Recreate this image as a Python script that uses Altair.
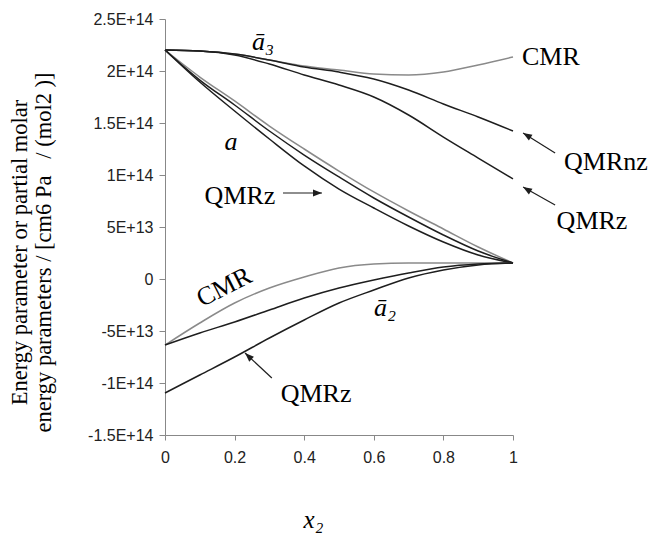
import altair as alt
import pandas as pd

# ---------------- data ----------------
x2 = [0.0, 0.1, 0.2, 0.3, 0.4, 0.5, 0.6, 0.7, 0.8, 0.9, 1.0]

# partial molar a3 (component 3)
a3_cmr   = [22.02e13, 21.92e13, 21.63e13, 21.06e13, 20.48e13, 20.10e13, 19.71e13, 19.62e13, 19.90e13, 20.58e13, 21.35e13]
a3_qmrnz = [22.02e13, 21.92e13, 21.63e13, 21.06e13, 20.38e13, 19.90e13, 19.23e13, 18.17e13, 16.83e13, 15.58e13, 14.23e13]
a3_qmrz  = [22.02e13, 21.92e13, 21.54e13, 20.67e13, 19.62e13, 18.65e13, 17.50e13, 15.77e13, 13.65e13, 11.63e13, 9.62e13]

# mixture energy parameter a
a_cmr    = [22.02e13, 19.42e13, 17.12e13, 14.71e13, 12.50e13, 10.38e13, 8.37e13, 6.54e13, 4.81e13, 3.08e13, 1.54e13]
a_qmrnz  = [22.02e13, 19.13e13, 16.73e13, 14.23e13, 11.92e13, 9.81e13, 7.79e13, 5.96e13, 4.23e13, 2.69e13, 1.54e13]
a_qmrz   = [22.02e13, 18.94e13, 16.15e13, 13.46e13, 10.87e13, 8.65e13, 6.83e13, 5.10e13, 3.56e13, 2.31e13, 1.54e13]

# partial molar a2 (component 2)
a2_cmr   = [-6.35e13, -4.23e13, -2.31e13, -0.87e13, 0.19e13, 1.06e13, 1.44e13, 1.54e13, 1.54e13, 1.54e13, 1.54e13]
a2_qmrnz = [-6.35e13, -5.19e13, -4.13e13, -2.98e13, -1.83e13, -0.87e13, -0.10e13, 0.58e13, 1.15e13, 1.44e13, 1.54e13]
a2_qmrz  = [-10.96e13, -9.23e13, -7.50e13, -5.67e13, -3.94e13, -2.31e13, -1.06e13, 0.10e13, 0.87e13, 1.35e13, 1.54e13]

series = {
    ("a3", "CMR"): a3_cmr, ("a3", "QMRnz"): a3_qmrnz, ("a3", "QMRz"): a3_qmrz,
    ("a", "CMR"): a_cmr, ("a", "QMRnz"): a_qmrnz, ("a", "QMRz"): a_qmrz,
    ("a2", "CMR"): a2_cmr, ("a2", "QMRnz"): a2_qmrnz, ("a2", "QMRz"): a2_qmrz,
}

x_ticks = [0, 0.2, 0.4, 0.6, 0.8, 1]
x_tick_labels = ["0", "0.2", "0.4", "0.6", "0.8", "1"]
y_ticks = [2.5e14, 2e14, 1.5e14, 1e14, 5e13, 0, -5e13, -1e14, -1.5e14]
y_tick_labels = ["2.5E+14", "2E+14", "1.5E+14", "1E+14", "5E+13", "0", "-5E+13", "-1E+14", "-1.5E+14"]

# annotation labels (data coordinates)
lab_text  = ["CMR", "QMRnz", "QMRz", "QMRz", "QMRz"]
lab_x     = [1.109, 1.267, 1.227, 0.2155, 0.434]
lab_y     = [2.058e14, 1.048e14, 4.81e13, 7.21e13, -1.183e14]

ital_text = ["a", "\u0101\u2083", "\u0101\u2082"]
ital_x    = [0.19, 0.282, 0.632]
ital_y    = [1.24e14, 2.202e14, -3.56e13]

rot_text  = ["CMR"]
rot_x     = [0.17]
rot_y     = [-0.77e13]
rot_angle = [333]

arr_x1 = [0.339, 1.121, 1.121, 0.307]
arr_y1 = [8.27e13, 1.211e14, 7.12e13, -9.52e13]
arr_x2 = [0.451, 1.029, 1.029, 0.230]
arr_y2 = [8.27e13, 1.404e14, 8.85e13, -7.12e13]
arr_angle = [90, 302, 302, 313]

# ---------------- tables ----------------
rows = []
for (grp, model), vals in series.items():
    for xv, yv in zip(x2, vals):
        rows.append({"series": f"{grp}-{model}", "model": model, "x": xv, "y": yv})
df = pd.DataFrame(rows)

df_lab = pd.DataFrame({"t": lab_text, "x": lab_x, "y": lab_y})
df_ital = pd.DataFrame({"t": ital_text, "x": ital_x, "y": ital_y})
df_rot = pd.DataFrame({"t": rot_text, "x": rot_x, "y": rot_y, "ang": rot_angle})
df_arr = pd.DataFrame({"x": arr_x1, "y": arr_y1, "x2": arr_x2, "y2": arr_y2, "ang": arr_angle})

x_expr = " : ".join([f"datum.value == {v} ? '{l}'" for v, l in zip(x_ticks, x_tick_labels)]) + " : ''"
y_expr = " : ".join([f"datum.value == {v} ? '{l}'" for v, l in zip(y_ticks, y_tick_labels)]) + " : ''"

SERIF = "Liberation Serif"
SANS = "Liberation Sans"
DARK = "#1e1e1e"
GRAY = "#8a8a8a"
NB = "\u00a0"

xscale = alt.Scale(domain=[0, 1], nice=False, zero=False)
yscale = alt.Scale(domain=[-1.5e14, 2.5e14], nice=False, zero=False)

x_axis = alt.Axis(
    values=x_ticks, labelExpr=x_expr, grid=False,
    title="x\u2082", titleFont=SERIF, titleFontStyle="italic", titleFontWeight="normal",
    titleFontSize=25, titleColor="#000", titleX=148, titleY=92,
    titleAlign="center", titleBaseline="alphabetic",
    labelFont=SANS, labelFontSize=16, labelColor="#222", labelPadding=9,
    tickSize=5, tickColor="#888", domainColor="#888", labelFlush=False,
)
y_axis = alt.Axis(
    values=y_ticks, labelExpr=y_expr, grid=False,
    title=["Energy parameter or partial molar",
           NB * 12 + "energy parameters / [cm6 Pa" + NB * 2 + " / (mol2" + NB + ")]"],
    titleFont=SERIF, titleFontSize=22.5, titleFontWeight="normal", titleColor="#000",
    titleLineHeight=24, titleAngle=270, titleX=-146, titleY=233,
    titleAlign="center", titleBaseline="middle",
    labelFont=SANS, labelFontSize=16, labelColor="#222", labelPadding=6,
    tickSize=6, tickColor="#888", domainColor="#888", labelFlush=False,
)

lines = alt.Chart(df).mark_line(strokeWidth=1.5, interpolate="monotone").encode(
    x=alt.X("x:Q", scale=xscale, axis=x_axis),
    y=alt.Y("y:Q", scale=yscale, axis=y_axis),
    detail="series:N",
    color=alt.Color("model:N", scale=alt.Scale(domain=["CMR", "QMRnz", "QMRz"],
                                                range=[GRAY, DARK, DARK]), legend=None),
)

labels = alt.Chart(df_lab).mark_text(font=SERIF, fontSize=26, color="#000",
                                     align="center", baseline="alphabetic").encode(
    x=alt.X("x:Q", scale=xscale), y=alt.Y("y:Q", scale=yscale), text="t:N")

ital = alt.Chart(df_ital).mark_text(font=SERIF, fontSize=26, fontStyle="italic", color="#000",
                                    align="center", baseline="alphabetic").encode(
    x=alt.X("x:Q", scale=xscale), y=alt.Y("y:Q", scale=yscale), text="t:N")

rot = alt.Chart(df_rot).mark_text(font=SERIF, fontSize=26, color="#000",
                                  align="center", baseline="middle").encode(
    x=alt.X("x:Q", scale=xscale), y=alt.Y("y:Q", scale=yscale), text="t:N",
    angle=alt.Angle("ang:Q", scale=None))

arr_lines = alt.Chart(df_arr).mark_rule(color=DARK, strokeWidth=1.2).encode(
    x=alt.X("x:Q", scale=xscale), y=alt.Y("y:Q", scale=yscale),
    x2="x2:Q", y2="y2:Q")

arr_heads = alt.Chart(df_arr).mark_point(
    shape="M0,0 L0.38,1 L-0.38,1 Z", filled=True, color=DARK, size=320, opacity=1, strokeWidth=0
).encode(
    x=alt.X("x2:Q", scale=xscale), y=alt.Y("y2:Q", scale=yscale),
    angle=alt.Angle("ang:Q", scale=None))

chart = alt.layer(lines, arr_lines, arr_heads, labels, ital, rot).properties(
    width=348, height=416,
    padding={"left": 165, "top": 19, "right": 137, "bottom": 103},
    autosize=alt.AutoSizeParams(type="none"),
    background="white",
).configure_view(stroke=None)

chart.save("out.html", embed_options={"renderer": "svg", "actions": False})
